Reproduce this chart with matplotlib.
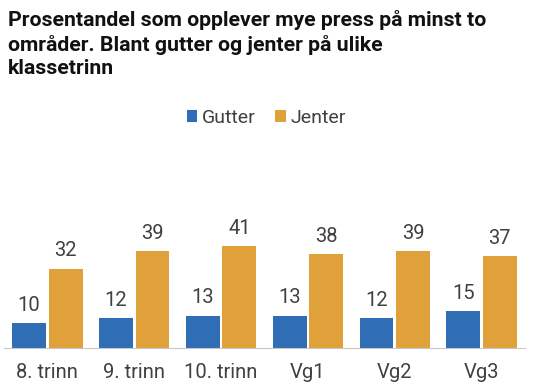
import numpy as np
import matplotlib.pyplot as plt

categories = ["8. trinn", "9. trinn", "10. trinn", "Vg1", "Vg2", "Vg3"]
gutter = [10, 12, 13, 13, 12, 15]
jenter = [32, 39, 41, 38, 39, 37]

blue = "#2F6DB5"
orange = "#E1A13A"
text_col = "#404040"

plt.rcParams['font.family'] = ['Roboto', 'DejaVu Sans']

fig = plt.figure(figsize=(5.33, 3.92), dpi=100)
ax = fig.add_axes([4 / 533, 44 / 392, 521 / 533, 208 / 392])

x = np.arange(len(categories))
w = 0.39
b1 = ax.bar(x - 0.21, gutter, w, color=blue, label="Gutter")
b2 = ax.bar(x + 0.21, jenter, w, color=orange, label="Jenter")

for bars, vals in ((b1, gutter), (b2, jenter)):
    for r, v in zip(bars, vals):
        ax.annotate(str(v), (r.get_x() + r.get_width() / 2, v),
                    xytext=(0, 6), textcoords="offset points",
                    ha="center", va="bottom", fontsize=14.5, color=text_col)

ax.set_xlim(-0.5, len(categories) - 0.5)
ax.set_ylim(0, 84)
ax.set_xticks(x)
ax.set_xticklabels(categories, fontsize=14.5, color=text_col)
ax.tick_params(axis="x", length=0, pad=11)
ax.set_yticks([])
for s in ("top", "left", "right"):
    ax.spines[s].set_visible(False)
ax.spines["bottom"].set_color("#C8C8C8")

fig.legend(handles=[b1, b2], loc="center", bbox_to_anchor=(0.5, 1 - 118 / 392),
           ncol=2, frameon=False, fontsize=14, handlelength=0.55, handleheight=0.55,
           handletextpad=0.25, columnspacing=1.0, labelcolor=text_col)

fig.text(8 / 533, 1 - 10 / 392,
         "Prosentandel som opplever mye press på minst to\n"
         "områder. Blant gutter og jenter på ulike\n"
         "klassetrinn",
         ha="left", va="top", fontsize=15.3, fontweight="bold", color="#111111",
         linespacing=1.3)

fig.savefig("out.png", dpi=100)
